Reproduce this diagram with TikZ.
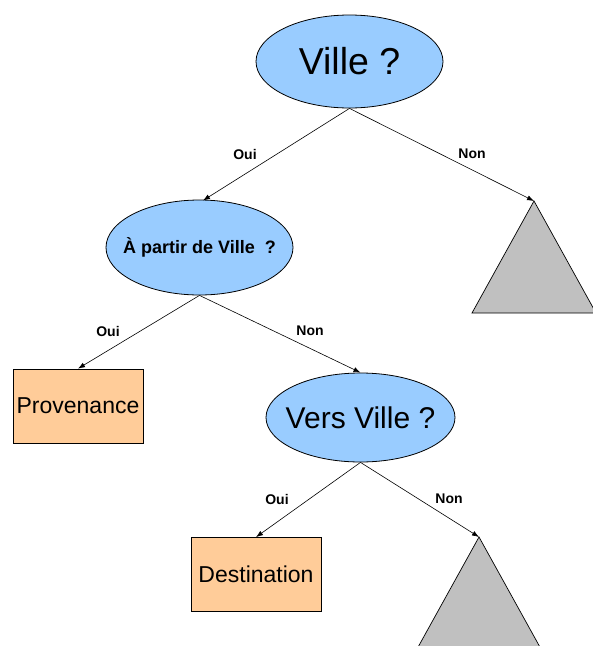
\documentclass[tikz,border=0pt]{standalone}
\usepackage{fontspec}
\setmainfont{Liberation Sans}
\usetikzlibrary{shapes.geometric,arrows.meta}
\definecolor{qblue}{HTML}{99CCFF}
\definecolor{leaf}{HTML}{FFCC99}
\definecolor{subtree}{HTML}{C0C0C0}
% the ellipse keeps its own size: the text is given no width of its own
\newcommand{\zerowidth}[1]{\makebox[0pt]{#1}}
\tikzset{
  question/.style={ellipse,draw=black,fill=qblue,line width=0.8pt,inner sep=0pt},
  answer/.style={rectangle,draw=black,fill=leaf,line width=0.8pt,inner sep=0pt,
    minimum width=130pt,minimum height=74pt,font=\fontsize{23}{27}\selectfont},
  branch/.style={draw=black,line width=0.6pt,-{Latex[length=7pt,width=5pt]}},
  choice/.style={font=\bfseries\fontsize{14}{16}\selectfont},
  subtreebox/.style={draw=black,fill=subtree,line width=0.7pt}
}
\begin{document}
\begin{tikzpicture}[x=1pt,y=-1pt]
  \useasboundingbox (0,0) rectangle (593,646);
  \clip (0,0) rectangle (593,646);

  % decision nodes
  \node[question,minimum width=187pt,minimum height=93pt,
        font=\fontsize{37.5}{42}\selectfont] (ville) at (349.5,61.5) {\zerowidth{Ville ?}};
  \node[question,minimum width=187pt,minimum height=95pt,
        font=\bfseries\fontsize{18}{21}\selectfont] (depart) at (199.5,247.5) {\zerowidth{À partir de Ville\ \ ?}};
  \node[question,minimum width=189pt,minimum height=89pt,
        font=\fontsize{30}{34}\selectfont] (vers) at (360.5,417.5) {\zerowidth{Vers Ville ?}};

  % leaves
  \node[answer] (prov) at (78,406) {Provenance};
  \node[answer] (dest) at (256,574.5) {Destination};

  % unexpanded subtrees
  \coordinate (sub1) at (534,201);
  \coordinate (sub2) at (479,537);
  \filldraw[subtreebox] (sub1) -- ++(-62,112) -- ++(124,0) -- cycle;
  \filldraw[subtreebox] (sub2) -- ++(-62,112) -- ++(124,0) -- cycle;

  % branches
  \draw[branch] (ville.south) -- (203,200.5) coordinate (e1);
  \draw[branch] (ville.south) -- (sub1);
  \draw[branch] (depart.south) -- (prov.north);
  \draw[branch] (depart.south) -- (vers.north);
  \draw[branch] (vers.south) -- (dest.north);
  \draw[branch] (vers.south) -- (sub2);

  % branch labels
  \node[choice] (l1) at (245,154) {Oui};
  \node[choice] (l2) at (472,154) {Non};
  \node[choice] (l3) at (108,331) {Oui};
  \node[choice] (l4) at (310,331) {Non};
  \node[choice] (l5) at (277,499) {Oui};
  \node[choice] (l6) at (449,499) {Non};
\end{tikzpicture}
\end{document}
